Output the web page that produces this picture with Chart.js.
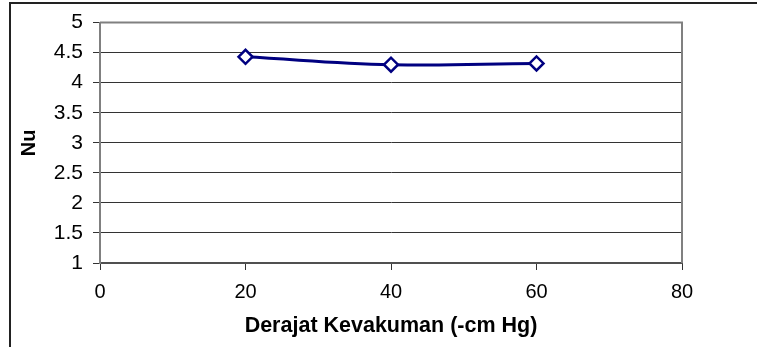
<!DOCTYPE html>
<html>
<head>
<meta charset="utf-8">
<script src="https://cdn.jsdelivr.net/npm/chart.js@4/dist/chart.umd.min.js"></script>
<style>
  html, body { margin: 0; padding: 0; background: #fff; }
  #wrap { width: 757px; height: 347px; }
</style>
</head>
<body>
<div id="wrap"><canvas id="c" width="757" height="347"></canvas></div>
<script>
const xValues = [20, 40, 60];
const nuValues = [4.43, 4.30, 4.32];
const xTicks = [0, 20, 40, 60, 80];
const yTicks = [1, 1.5, 2, 2.5, 3, 3.5, 4, 4.5, 5];
const xTitle = 'Derajat Kevakuman (-cm Hg)';
const yTitle = 'Nu';

const frame = {
  id: 'frame',
  beforeDraw(chart) {
    const ctx = chart.ctx;
    ctx.save();
    ctx.fillStyle = '#fff';
    ctx.fillRect(0, 0, chart.width, chart.height);
    ctx.strokeStyle = '#222';
    ctx.lineWidth = 2;
    ctx.strokeRect(10, 3, 900, 500);
    ctx.restore();
  },
  afterDatasetsDraw(chart) {
    const a = chart.chartArea;
    const ctx = chart.ctx;
    ctx.save();
    ctx.strokeStyle = '#808080';
    ctx.lineWidth = 2;
    ctx.beginPath();
    ctx.moveTo(a.left, a.top);
    ctx.lineTo(a.right, a.top);
    ctx.lineTo(a.right, a.bottom);
    ctx.stroke();
    ctx.restore();
  }
};

new Chart(document.getElementById('c'), {
  type: 'scatter',
  data: {
    datasets: [{
      data: xValues.map((x, i) => ({ x: x, y: nuValues[i] })),
      showLine: true,
      borderColor: '#000080',
      borderWidth: 3,
      tension: 0.4,
      pointStyle: 'rectRot',
      pointRadius: 7,
      pointHoverRadius: 7,
      pointBorderWidth: 2.5,
      pointBorderColor: '#000080',
      pointBackgroundColor: '#ffffff'
    }]
  },
  options: {
    responsive: false,
    animation: false,
    clip: false,
    layout: { padding: { left: 0, top: 22, right: 75, bottom: 0 } },
    plugins: { legend: { display: false }, tooltip: { enabled: false } },
    scales: {
      x: {
        type: 'linear',
        min: 0, max: 80,
        afterFit: s => { s.height = 84; },
        afterBuildTicks: s => { s.ticks = xTicks.map(v => ({ value: v })); },
        grid: { drawOnChartArea: false, drawTicks: true, tickLength: 7, color: '#333', lineWidth: 1 },
        border: { display: true, color: '#505050', width: 2 },
        ticks: { color: '#000', padding: 10, font: { family: 'Liberation Sans, Arial', size: 20 }, maxRotation: 0, callback: v => String(v) },
        title: { display: true, text: xTitle, color: '#000', padding: { top: 0, bottom: 8 }, font: { family: 'Liberation Sans, Arial', size: 21.5, weight: 'bold' } }
      },
      y: {
        type: 'linear',
        min: 1, max: 5,
        afterFit: s => { s.width = 100; },
        afterBuildTicks: s => { s.ticks = yTicks.map(v => ({ value: v })); },
        grid: { drawOnChartArea: true, drawTicks: true, tickLength: 7, color: '#333', lineWidth: 1 },
        border: { display: true, color: '#808080', width: 2 },
        ticks: { color: '#000', padding: 10, font: { family: 'Liberation Sans, Arial', size: 21 }, callback: v => String(v) },
        title: { display: true, text: yTitle, color: '#000', padding: { top: 17, bottom: 0 }, font: { family: 'Liberation Sans, Arial', size: 20, weight: 'bold' } }
      }
    }
  },
  plugins: [frame]
});
</script>
</body>
</html>
